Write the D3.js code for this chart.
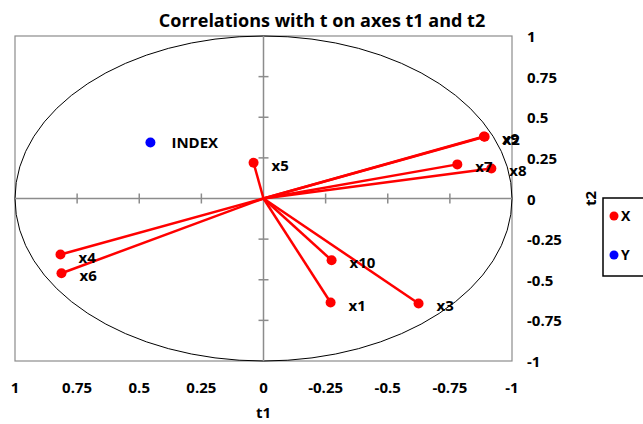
<!DOCTYPE html>
<html>
<head>
<meta charset="utf-8">
<script src="https://cdn.jsdelivr.net/npm/d3@7"></script>
<style>
  body { margin: 0; background: #fff; }
  text { font-family: "Open Sans", "Noto Sans", sans-serif; font-weight: bold; fill: #000; }
</style>
</head>
<body>
<div id="chart"></div>
<script>
// --- Data ---
const varNames = ['x1', 'x2', 'x3', 'x4', 'x5', 'x6', 'x7', 'x8', 'x9', 'x10'];
const varT1 = [-0.27, -0.89, -0.624, 0.817, 0.04, 0.813, -0.78, -0.917, -0.887, -0.274];
const varT2 = [-0.64, 0.38, -0.646, -0.345, 0.22, -0.46, 0.21, 0.185, 0.382, -0.38];
const yNames = ['INDEX'];
const yT1 = [0.455];
const yT2 = [0.345];
const tickValues = [1, 0.75, 0.5, 0.25, 0, -0.25, -0.5, -0.75, -1];
const legendItems = [{ name: 'X', color: '#ff0000' }, { name: 'Y', color: '#0000ff' }];

// --- Layout ---
const W = 643, H = 424;
const plot = { left: 15, right: 512, top: 36, bottom: 361 };
const LABEL_SIZE = 15;

const svg = d3.select('#chart').append('svg')
    .attr('width', W).attr('height', H);

const x = d3.scaleLinear().domain([1, -1]).range([plot.left, plot.right]);
const y = d3.scaleLinear().domain([-1, 1]).range([plot.bottom, plot.top]);

// plot frame
svg.append('rect')
    .attr('x', plot.left).attr('y', plot.top)
    .attr('width', plot.right - plot.left).attr('height', plot.bottom - plot.top)
    .attr('fill', 'none').attr('stroke', '#8c8c8c').attr('stroke-width', 1.2);

// correlation circle
svg.append('ellipse')
    .attr('cx', x(0)).attr('cy', y(0))
    .attr('rx', x(-1) - x(0)).attr('ry', y(0) - y(1))
    .attr('fill', 'none').attr('stroke', '#000').attr('stroke-width', 1);

// zero axes with cross ticks
const axisColor = '#8c8c8c';
const innerTicks = tickValues.filter(d => Math.abs(d) < 1 && d !== 0);
svg.append('line')
    .attr('x1', plot.left).attr('x2', plot.right)
    .attr('y1', y(0)).attr('y2', y(0))
    .attr('stroke', axisColor).attr('stroke-width', 1.5);
svg.append('line')
    .attr('x1', x(0)).attr('x2', x(0))
    .attr('y1', plot.top).attr('y2', plot.bottom)
    .attr('stroke', axisColor).attr('stroke-width', 1.5);

svg.selectAll('.xtick').data(innerTicks).enter()
    .append('line').attr('class', 'xtick')
    .attr('x1', d => x(d)).attr('x2', d => x(d))
    .attr('y1', y(0) - 5).attr('y2', y(0) + 5)
    .attr('stroke', axisColor).attr('stroke-width', 1.5);
svg.selectAll('.ytick').data(innerTicks).enter()
    .append('line').attr('class', 'ytick')
    .attr('x1', x(0) - 5).attr('x2', x(0) + 5)
    .attr('y1', d => y(d)).attr('y2', d => y(d))
    .attr('stroke', axisColor).attr('stroke-width', 1.5);

// tick labels (plain hyphen minus, as in the original)
svg.selectAll('.xlab').data(tickValues).enter()
    .append('text').attr('class', 'xlab')
    .attr('x', d => x(d)).attr('y', 393)
    .attr('text-anchor', 'middle').attr('font-size', LABEL_SIZE)
    .text(d => String(d));
svg.selectAll('.ylab').data(tickValues).enter()
    .append('text').attr('class', 'ylab')
    .attr('x', 527).attr('y', d => y(d) + 6)
    .attr('font-size', LABEL_SIZE)
    .text(d => String(d));

// title and axis titles
svg.append('text')
    .attr('x', 322).attr('y', 27)
    .attr('text-anchor', 'middle').attr('font-size', 18)
    .text('Correlations with t on axes t1 and t2');
svg.append('text')
    .attr('x', x(0)).attr('y', 418)
    .attr('text-anchor', 'middle').attr('font-size', LABEL_SIZE)
    .text('t1');
svg.append('text')
    .attr('transform', `translate(596, ${y(0)}) rotate(-90)`)
    .attr('text-anchor', 'middle').attr('font-size', LABEL_SIZE)
    .text('t2');

// variable vectors
const vars = varNames.map((name, i) => ({ name, t1: varT1[i], t2: varT2[i] }));
svg.selectAll('.vec').data(vars).enter()
    .append('line').attr('class', 'vec')
    .attr('x1', x(0)).attr('y1', y(0))
    .attr('x2', d => x(d.t1)).attr('y2', d => y(d.t2))
    .attr('stroke', '#ff0000').attr('stroke-width', 2.5);
svg.selectAll('.vpt').data(vars).enter()
    .append('circle').attr('class', 'vpt')
    .attr('cx', d => x(d.t1)).attr('cy', d => y(d.t2)).attr('r', 5)
    .attr('fill', '#ff0000');
svg.selectAll('.vlab').data(vars).enter()
    .append('text').attr('class', 'vlab')
    .attr('x', d => x(d.t1) + 18).attr('y', d => y(d.t2) + 8)
    .attr('font-size', LABEL_SIZE)
    .text(d => d.name);

// observation variable
const ys = yNames.map((name, i) => ({ name, t1: yT1[i], t2: yT2[i] }));
svg.selectAll('.ypt').data(ys).enter()
    .append('circle').attr('class', 'ypt')
    .attr('cx', d => x(d.t1)).attr('cy', d => y(d.t2)).attr('r', 5)
    .attr('fill', '#0000ff');
svg.selectAll('.ylabel').data(ys).enter()
    .append('text').attr('class', 'ylabel')
    .attr('x', d => x(d.t1) + 21).attr('y', d => y(d.t2) + 6)
    .attr('font-size', LABEL_SIZE)
    .text(d => d.name);

// legend
const legend = svg.append('g').attr('transform', 'translate(603, 198)');
legend.append('rect')
    .attr('width', 45).attr('height', 78)
    .attr('fill', '#fff').attr('stroke', '#000').attr('stroke-width', 1.5);
legend.selectAll('circle').data(legendItems).enter()
    .append('circle')
    .attr('cx', 11).attr('cy', (d, i) => 18 + i * 39).attr('r', 4.5)
    .attr('fill', d => d.color);
legend.selectAll('text').data(legendItems).enter()
    .append('text')
    .attr('x', 18).attr('y', (d, i) => 23 + i * 39)
    .attr('font-size', 14)
    .text(d => d.name);
</script>
</body>
</html>
